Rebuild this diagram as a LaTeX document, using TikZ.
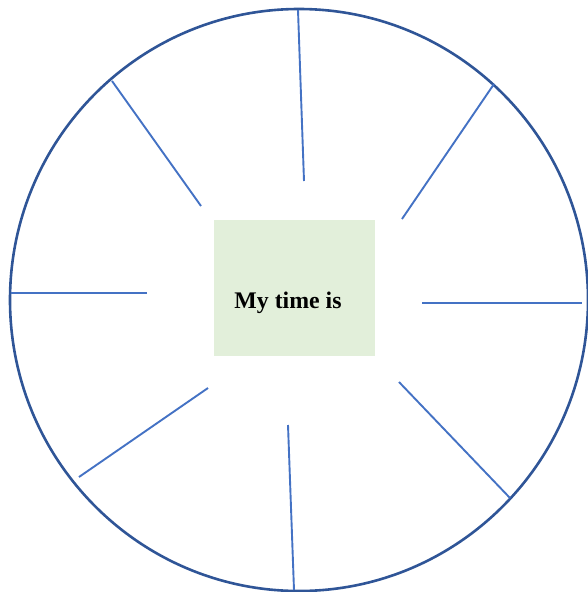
\documentclass[tikz,border=0pt]{standalone}
\usepackage{fontspec}
\setmainfont{Liberation Serif}
\usetikzlibrary{positioning}
\definecolor{rimblue}{HTML}{2F5597}
\definecolor{spokeblue}{HTML}{4472C4}
\definecolor{boxgreen}{HTML}{E2EFDA}

\begin{document}
\begin{tikzpicture}[x=1pt, y=-1pt]
	\useasboundingbox (0,0) rectangle (587,592);
	\draw[rimblue, line width=2.6pt] (299,300) ellipse [x radius=289, y radius=291];
	\node[fill=boxgreen, minimum width=161pt, minimum height=136pt, inner sep=0pt] (box) at (294.5,288) {};
	\node[font=\bfseries\fontsize{23.8}{28}\selectfont] (label) at (288,303) {My time is};
	\foreach \xa/\ya/\xb/\yb in {298/10/304/181, 494/84/402/219, 422/303/582/303, 399/382/510/498,
		288/425/294/590, 208/388/79/477, 147/293/11/293, 201/206/112/81}
		\draw[spokeblue, line width=1.9pt] (\xa,\ya) -- (\xb,\yb);
\end{tikzpicture}
\end{document}
